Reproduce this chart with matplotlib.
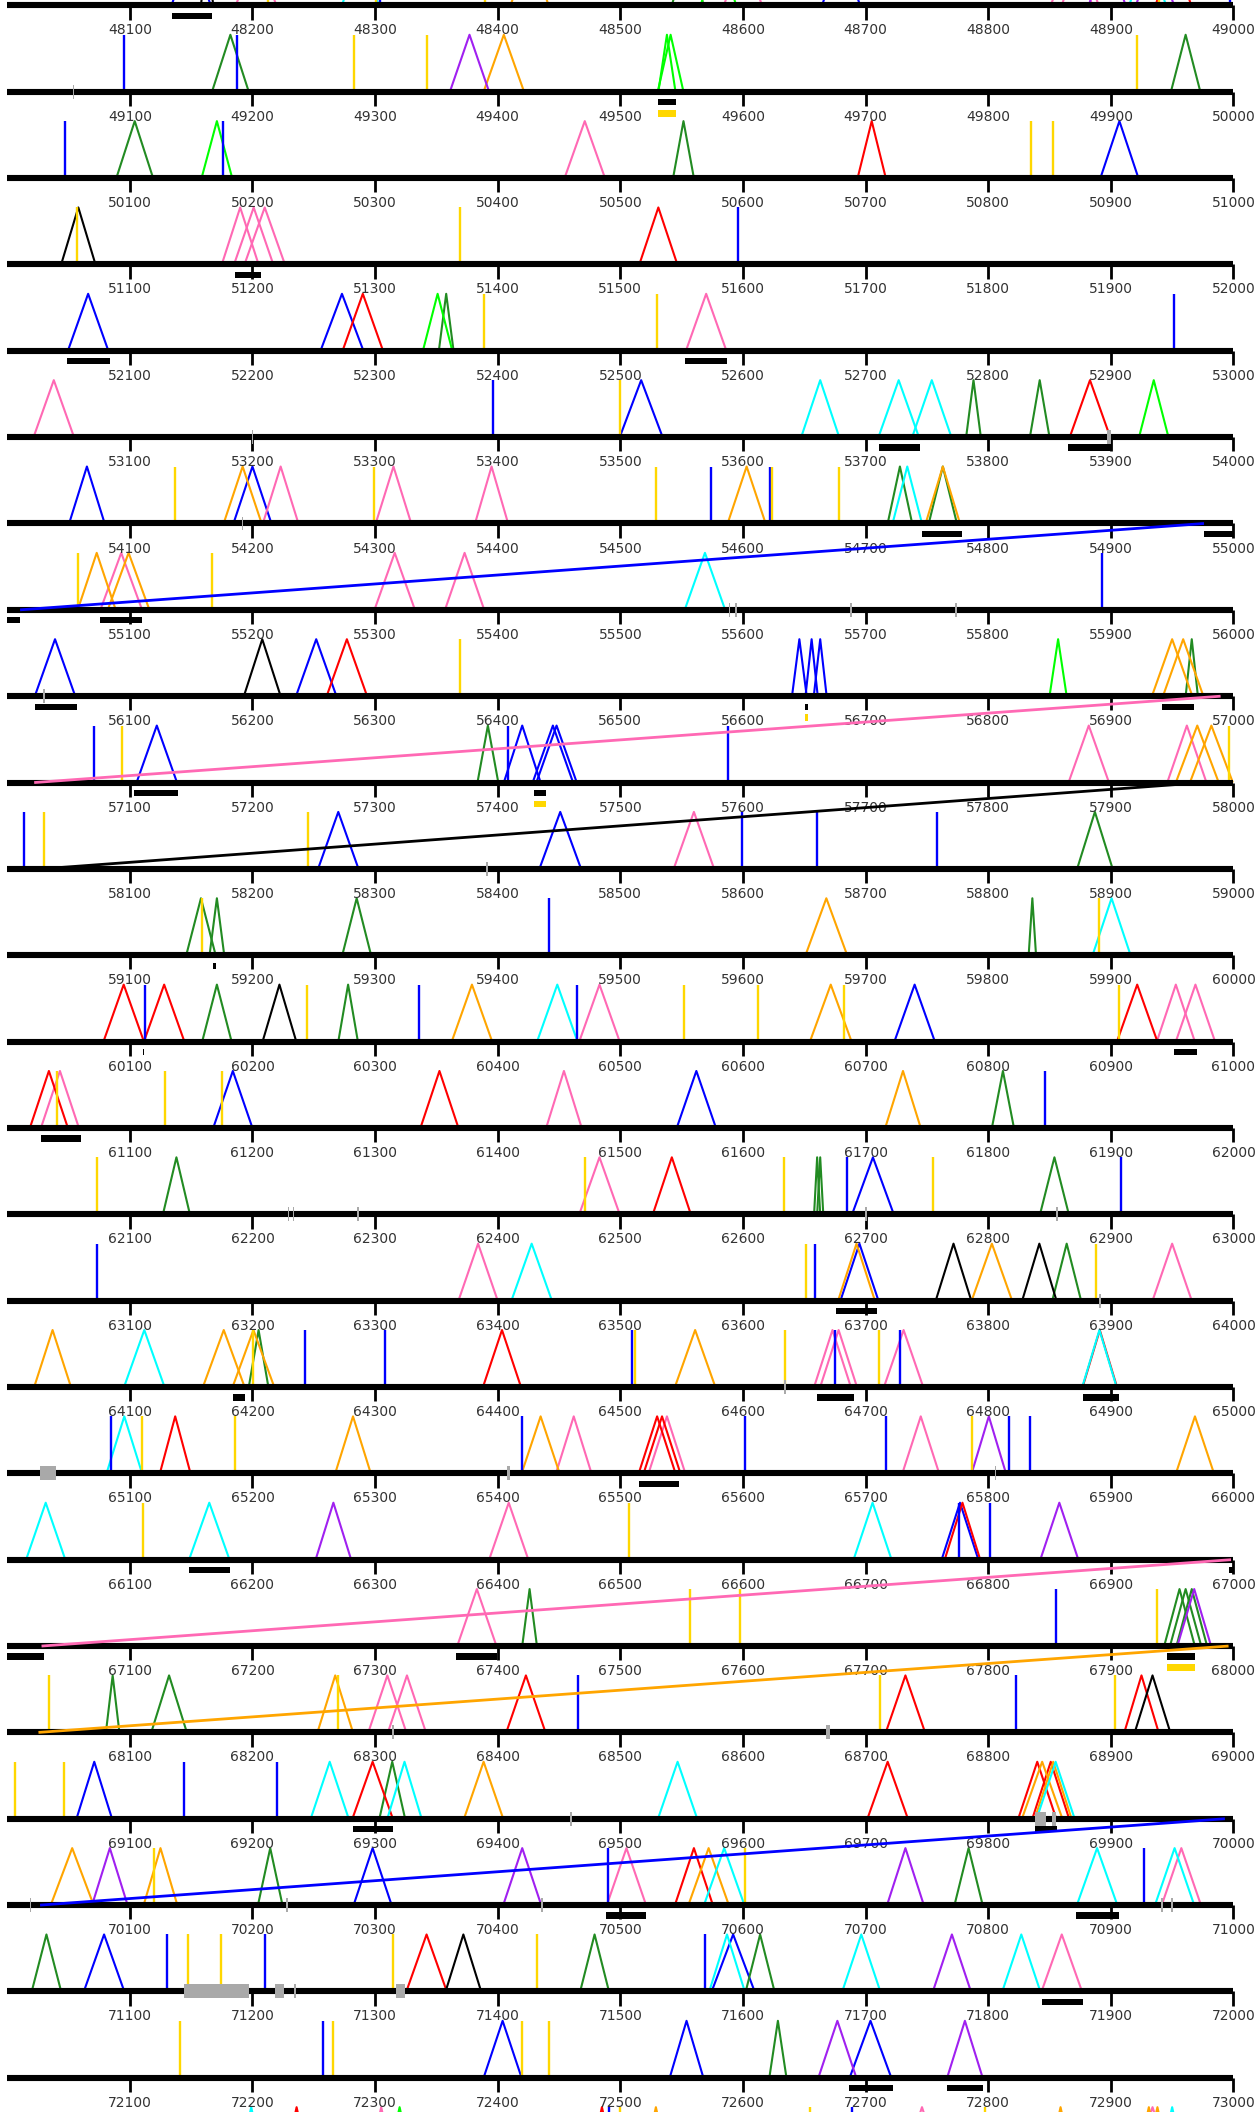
import matplotlib
matplotlib.use("Agg")
import matplotlib.pyplot as plt
from matplotlib.collections import LineCollection
from matplotlib.patches import Rectangle

# ---------------- layout constants (not data) ----------------
ROW_ORIGIN = 48000
ROW_LENGTH = 1000
N_ROWS = 25
TICK_STEP = 100

COLORS = {
    "blue": "#0000ff", "green": "#228b22", "lime": "#00ff00", "gold": "#ffd700",
    "orange": "#ffa500", "pink": "#ff69b4", "red": "#ff0000", "cyan": "#00ffff",
    "purple": "#a020f0", "black": "#000000", "gray": "#a9a9a9",
}

# ---------------- data: triangles (centre bp, width bp) ----------------
TRI_BLUE = [(48150, 32), (48680, 31), (50907, 31), (52066, 33), (52273, 35), (53517, 35),
            (54065, 29), (54200, 31), (56039, 33), (56252, 33), (56646, 12), (56656, 10),
            (56663, 10.5), (57122, 33), (57420, 30), (57445, 33), (57448, 33), (58270, 33),
            (58451, 34), (60740, 33), (61184, 32), (61562, 32), (62706, 34), (63695, 31),
            (66777, 30), (69071, 29), (70298, 31), (71079, 33), (71592, 35), (72404, 31),
            (72554, 27.5), (72704, 34)]
TRI_GREEN = [(48555, 26), (49182, 30), (49961, 24), (50104, 30), (50551.5, 17), (52358, 12),
             (53788, 12), (53842, 16), (54728, 20), (54763, 23), (56966, 10), (57392, 17),
             (58887, 29), (59158, 24), (59171, 12), (59285, 23.5), (59836, 6), (60171, 24),
             (60278, 16), (61812, 18), (62138, 22), (62660.5, 5), (62663, 5), (62854, 23.5),
             (63864, 23.5), (64205, 16), (67426, 12), (67956, 25), (67961, 25.5), (67966, 25),
             (68086, 11), (68132, 29), (69314, 21), (70214.5, 20), (70784, 23), (71032, 24),
             (71479, 23.5), (71614, 23.5), (72628.5, 14)]
TRI_LIME = [(48580, 29), (49538, 14), (49541, 21), (50171, 25), (52351, 24), (53935, 24),
            (56857, 14), (73320, 20)]
TRI_PINK = [(48203, 33), (48600, 31), (48868, 34), (48875, 30), (50471, 33), (51190, 30),
            (51201, 32), (51210, 33), (52570, 33), (53038, 33), (54223, 29), (54315, 29),
            (54395, 27), (55093, 34), (55316, 33), (55373, 32), (57882, 33), (57962, 32),
            (58560, 33), (60483, 33), (60953, 31), (60969, 32), (61043, 31), (61454, 29),
            (62483, 33), (63384, 32), (63950, 32), (64673, 30), (64678, 30), (64731, 32),
            (65462, 29), (65538, 30), (65745, 30), (66409, 32), (67383, 32), (68310, 31),
            (68326, 31), (70505, 32), (70957.5, 32), (71860, 33), (73305, 20), (73746, 30),
            (73934, 30)]
TRI_RED = [(48951, 29), (50705, 23), (51531, 31), (52290, 33), (53883, 33), (56277, 33),
           (60095, 33), (60128, 33), (60921.5, 33), (61034, 31), (61352.5, 31), (62542, 31),
           (64403.5, 31), (64891, 28), (65137, 25), (65530, 30), (65534, 30), (66779, 29),
           (68423, 32), (68732.5, 32), (68925, 28), (69298, 33), (69718, 33), (69840, 31),
           (69851, 30), (70560, 31), (71342, 33), (73236, 20), (73485, 20)]
TRI_ORANGE = [(48426, 31), (49405, 33), (54192, 31), (54603, 31), (54763, 28), (55073, 31),
              (55099, 34), (56950, 33), (56959, 33), (57970.5, 35), (57982, 35), (59668, 34),
              (60379, 33), (60671.6, 34), (61730.5, 29), (63692.6, 30), (63803, 33),
              (64037, 30), (64176.6, 34), (64200.8, 34), (64561, 33), (65282, 29),
              (65435, 31), (65968.6, 31), (68267.5, 29), (69388.5, 32), (69844, 33),
              (69853, 30), (70053, 35), (70125, 27.5), (70572, 33), (73529, 20),
              (73859, 20), (73931, 20), (73938, 20)]
TRI_CYAN = [(48288, 30), (48930, 30), (53663, 31), (53727, 33), (53754, 32), (54734, 24),
            (55569, 33), (59900.6, 31), (60448.6, 33), (63427.7, 33), (64111.8, 33),
            (64890.7, 28), (65095.5, 29), (66031.4, 32), (66164.8, 33), (66705.7, 31),
            (69263, 31), (69324, 28), (69546.7, 32), (69855, 31), (70584.7, 33),
            (70888.8, 33), (70952, 32), (71587, 29), (71696.5, 31), (71827, 31),
            (73199, 20), (73950, 20)]
TRI_PURPLE = [(48897, 30), (48936, 31), (49377, 32), (65800.5, 28), (66266, 29), (66858, 31),
              (67968, 27.5), (70083.7, 29), (70420, 31), (70732.5, 30), (71770.4, 31),
              (72677, 31), (72781, 29)]
TRI_BLACK = [(48163, 10), (51058, 28), (56208, 30), (60222, 27.5), (63771.7, 29),
             (63841.7, 28), (68934, 29), (71372, 29)]

# ---------------- data: vertical sticks (bp) ----------------
VLINE_BLUE = [48304, 48997, 49095, 49187, 50047, 50176, 51596, 52951.6, 53396, 54574, 54622,
              55893, 57071, 57408, 57588, 58014, 58599, 58660.5, 58758, 59441.5, 60112.5,
              60335.5, 60464.3, 61846, 62685, 62908.4, 63073, 63659, 64242.6, 64308, 64509.5,
              64675, 64728, 65085, 65420, 65602, 65716.8, 65817, 65834, 66776.3, 66801.8,
              67855.4, 68465.6, 68822.7, 69144.5, 69220.4, 70490, 70926.7, 71130, 71210,
              71569, 72257.7, 73491, 73688.7]
VLINE_GOLD = [48213, 48301, 48390, 48939, 49283, 49342.5, 49921.5, 50835, 50853, 51057,
              51369.5, 52388.5, 52530, 53500, 54137, 54299, 54529, 54624, 54678, 55058, 55167,
              56369.5, 57093.5, 57996, 58030, 58245, 59159, 59890, 60244.6, 60552, 60612,
              60682.8, 60907, 61040.5, 61129, 61175, 62073, 62471, 62633.7, 62754.7, 63651.4,
              63888, 64200.8, 64512, 64634.4, 64711, 65110, 65185.7, 65786.8, 66111, 66506.8,
              67557, 67597.8, 67938, 68034, 68270, 68711.6, 68903, 69006.5, 69046.4, 70120,
              70601.7, 71147.8, 71174.6, 71315, 71432, 72141.3, 72265.5, 72420, 72441.5,
              73500, 73654.6, 73797]

# ---------------- data: bars below the axis (start bp, end bp) ----------------
BAR_BLACK = [(48134, 48167), (49531, 49545), (51186, 51207), (52049, 52084), (52553, 52587),
             (53711, 53744), (53865, 53901), (54746, 54779), (54976, 55000), (55000, 55010.5),
             (55076, 55110), (56023, 56057), (56651, 56653), (56942, 56968), (57103, 57139),
             (57430, 57439), (59167.5, 59170), (60110.5, 60111.5), (60951.6, 60970),
             (61027.5, 61060), (63676, 63709.5), (64184, 64193.6), (64660.5, 64690.6),
             (64877.7, 64906.4), (65515, 65548), (66148, 66182), (66996, 67000),
             (67000, 67030), (67365.6, 67399.6), (67946, 67969), (69282, 69315),
             (69838, 69856), (70488, 70521), (70872, 70906.5), (71843.7, 71877.7),
             (72686.7, 72722), (72766, 72796)]
BAR_GOLD = [(49531, 49545), (56651, 56653), (57430, 57439), (67946, 67969)]

# ---------------- data: grey marks on the axis (start bp, end bp) ----------------
GRAY_MARKS = [(49053.3, 49054.7), (53199.3, 53200.7), (53897, 53900.5), (54191.3, 54192.7),
              (55588.3, 55589.7), (55593.8, 55595.2), (55687.3, 55688.7), (55773.3, 55774.7),
              (56029.3, 56030.7), (58390.3, 58391.7), (62228.8, 62230.2), (62232.8, 62234.2),
              (62285.1, 62286.5), (62699.7, 62701.1), (62855.3, 62856.7), (63890.3, 63891.7),
              (64633.7, 64635.1), (65026.8, 65040), (65407.5, 65410), (65805.3, 65806.7),
              (68313.9, 68315.3), (68667.7, 68671), (69459.3, 69460.7), (69838, 69847),
              (69852, 69855), (70018.3, 70019.7), (70227.3, 70228.7), (70435.3, 70436.7),
              (70941.3, 70942.7), (70949.3, 70950.7), (71144.5, 71197), (71218, 71225.6),
              (71234.1, 71235.5), (71317, 71324)]

# ---------------- data: links between rows (from bp, to bp, colour) ----------------
LINKS = [(54976, 55010.5, "blue"), (56989.5, 57022, "pink"), (57975, 58028, "black"),
         (66998, 67028, "pink"), (67996, 68025.5, "orange"), (69993, 70026.8, "blue")]

# ---------------- geometry (in row units / bp) ----------------
TRI_H = 0.66
TICK_LEN = 0.165
LABEL_Y = 0.29
BAR_TOP, BAR_H = 0.085, 0.072
GOLD_TOP, GOLD_H = 0.21, 0.078
GRAY_HALF = 0.081


def locate(pos):
    r = int((pos - ROW_ORIGIN) // ROW_LENGTH)
    return r, pos - (ROW_ORIGIN + r * ROW_LENGTH)


fig = plt.figure(figsize=(12.57, 21.12), dpi=100)
ax = fig.add_axes([0, 0, 1, 1])
ax.set_xlim(-5.87, 1019.2)
ax.set_ylim(24.396, -0.0625)
ax.axis("off")

# triangles
tri_sets = [("blue", TRI_BLUE), ("green", TRI_GREEN), ("lime", TRI_LIME), ("pink", TRI_PINK),
            ("red", TRI_RED), ("orange", TRI_ORANGE), ("cyan", TRI_CYAN),
            ("purple", TRI_PURPLE), ("black", TRI_BLACK)]
for cname, items in tri_sets:
    segs = []
    for c, w in items:
        r, off = locate(c)
        segs.append([(off - w / 2, r), (off, r - TRI_H), (off + w / 2, r)])
    ax.add_collection(LineCollection(segs, colors=COLORS[cname], linewidths=1.5,
                                     joinstyle="round", capstyle="butt", zorder=2))

# sticks
for cname, items in [("blue", VLINE_BLUE), ("gold", VLINE_GOLD)]:
    segs = []
    for p in items:
        r, off = locate(p)
        segs.append([(off, r), (off, r - TRI_H)])
    ax.add_collection(LineCollection(segs, colors=COLORS[cname], linewidths=1.7,
                                     capstyle="butt", zorder=2))

# axis lines, ticks and labels
for r in range(N_ROWS):
    ax.plot([0, ROW_LENGTH], [r, r], color="black", lw=4.4, solid_capstyle="butt", zorder=3)
    ticks = list(range(TICK_STEP, ROW_LENGTH + 1, TICK_STEP))
    ax.add_collection(LineCollection([[(t, r), (t, r + TICK_LEN)] for t in ticks],
                                     colors="black", linewidths=2.0, capstyle="butt", zorder=3))
    for t in ticks:
        ax.text(t, r + LABEL_Y, str(ROW_ORIGIN + r * ROW_LENGTH + t), ha="center",
                va="center", fontsize=10, color="#333333", family="DejaVu Sans")

# bars
for items, cname, top, h in [(BAR_BLACK, "black", BAR_TOP, BAR_H), (BAR_GOLD, "gold", GOLD_TOP, GOLD_H)]:
    for s, e in items:
        r, off = locate(s)
        ax.add_patch(Rectangle((off, r + top), e - s, h, facecolor=COLORS[cname],
                               edgecolor="none", zorder=3))

# grey marks
for s, e in GRAY_MARKS:
    r, off = locate(s)
    ax.add_patch(Rectangle((off, r - GRAY_HALF), e - s, 2 * GRAY_HALF,
                           facecolor=COLORS["gray"], edgecolor="none", zorder=4))

# links
for a, b, cname in LINKS:
    r1, o1 = locate(a)
    r2, o2 = locate(b)
    ax.plot([o1, o2], [r1, r2], color=COLORS[cname], lw=2.0, solid_capstyle="butt", zorder=5)

fig.savefig("out.png", dpi=100)
